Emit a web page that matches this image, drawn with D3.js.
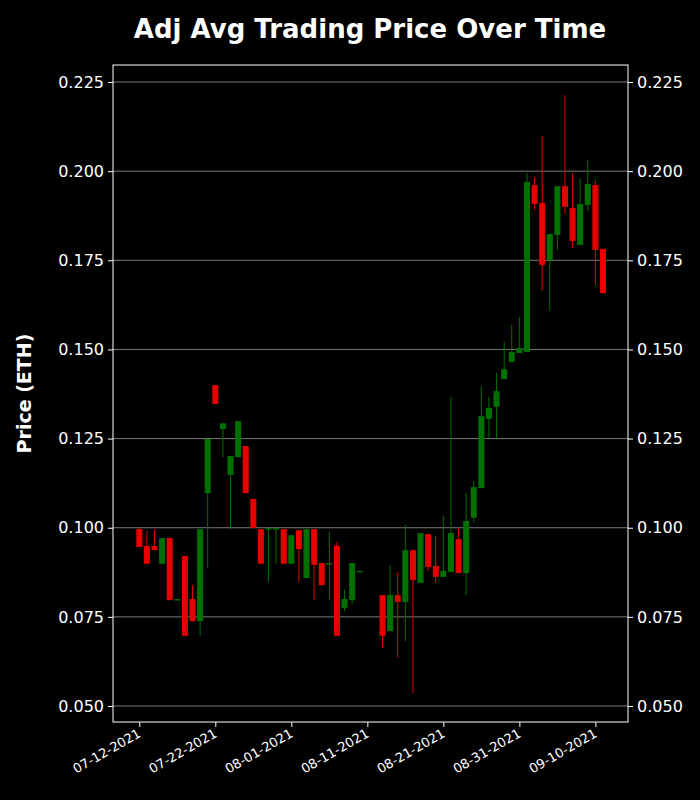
<!DOCTYPE html>
<html>
<head>
<meta charset="utf-8">
<script src="https://cdn.jsdelivr.net/npm/d3@7"></script>
<style>
  body { margin: 0; background: #000; }
  text { font-family: "DejaVu Sans", sans-serif; fill: #fff; }
</style>
</head>
<body>
<svg id="chart" width="700" height="800"></svg>
<script>
// day offsets from 2021-07-12 (no data on days 30, 31)
const dayIdx = [0,1,2,3,4,5,6,7,8,9,10,11,12,13,14,15,16,17,18,19,20,21,22,23,24,25,26,27,28,29,
  32,33,34,35,36,37,38,39,40,41,42,43,44,45,46,47,48,49,50,51,52,53,54,55,56,57,58,59,60,61]
const opens = [0.0996,0.0949,0.0949,0.0899,0.0971,0.0800,0.0921,0.0800,0.0738,0.1097,0.1400,0.1277,0.1148,0.1198,0.1229,0.1081,0.0996,0.0999,0.0999,0.0996,0.0899,0.0993,0.0859,0.0996,0.0901,0.0901,0.0949,0.0775,0.0797,0.0879,
  0.0811,0.0710,0.0811,0.0792,0.0937,0.0845,0.0982,0.0893,0.0862,0.0876,0.0968,0.0873,0.1028,0.1111,0.1305,0.1339,0.1417,0.1465,0.1490,0.1493,0.1961,0.1911,0.1751,0.1821,0.1958,0.1897,0.1793,0.1905,0.1961,0.1782]
const closes = [0.0946,0.0899,0.0937,0.0971,0.0797,0.0800,0.0697,0.0738,0.0996,0.1249,0.1347,0.1293,0.1201,0.1299,0.1097,0.0999,0.0899,0.0999,0.0999,0.0899,0.0979,0.0940,0.0996,0.0896,0.0839,0.0901,0.0697,0.0800,0.0901,0.0879,
  0.0697,0.0811,0.0792,0.0937,0.0853,0.0985,0.0890,0.0862,0.0879,0.0985,0.0873,0.1019,0.1114,0.1313,0.1336,0.1383,0.1445,0.1493,0.1504,0.1970,0.1908,0.1737,0.1824,0.1958,0.1900,0.1804,0.1908,0.1964,0.1779,0.1658]
const highs = [0.0999,0.0991,0.0994,0.0971,0.0971,0.0800,0.0921,0.0839,0.0996,0.1249,0.1400,0.1293,0.1201,0.1299,0.1229,0.1081,0.0996,0.0999,0.0999,0.0996,0.0899,0.0993,0.0996,0.0996,0.0901,0.0988,0.0960,0.0825,0.0901,0.0879,
  0.0811,0.0893,0.0876,0.1008,0.0937,0.0985,0.0982,0.0977,0.1033,0.1367,0.0997,0.1097,0.1131,0.1397,0.1367,0.1434,0.1521,0.1569,0.1591,0.1995,0.1981,0.2099,0.1824,0.1958,0.2213,0.1995,0.1981,0.2031,0.1975,0.1782]
const lows = [0.0946,0.0899,0.0937,0.0899,0.0797,0.0800,0.0697,0.0738,0.0697,0.0887,0.1347,0.1198,0.0996,0.1198,0.1097,0.0999,0.0899,0.0848,0.0899,0.0899,0.0899,0.0848,0.0859,0.0797,0.0839,0.0797,0.0697,0.0766,0.0786,0.0879,
  0.0663,0.0710,0.0637,0.0682,0.0536,0.0845,0.0879,0.0845,0.0862,0.0876,0.0873,0.0811,0.1016,0.1111,0.1252,0.1249,0.1417,0.1465,0.1490,0.1493,0.1891,0.1664,0.1608,0.1779,0.1880,0.1784,0.1793,0.1888,0.1681,0.1658]
const yTicks = [0.050,0.075,0.100,0.125,0.150,0.175,0.200,0.225]
const startDate = new Date(Date.UTC(2021, 6, 12))
const xTicks = [0,10,20,30,40,50,60].map(d => d3.utcDay.offset(startDate, d))

const svg = d3.select('#chart')
const m = { left: 113, right: 628, top: 65, bottom: 722 }

const x = d3.scaleUtc()
  .domain([d3.utcHour.offset(startDate, -3.45 * 24), d3.utcHour.offset(startDate, 64.3 * 24)])
  .range([m.left, m.right])
const y = d3.scaleLinear().domain([0.04552, 0.22977]).range([m.bottom, m.top])

svg.append('rect').attr('width', 700).attr('height', 800).attr('fill', '#000')

// grid
svg.append('g').selectAll('line').data(yTicks).join('line')
  .attr('x1', m.left).attr('x2', m.right)
  .attr('y1', d => y(d)).attr('y2', d => y(d))
  .attr('stroke', '#888').attr('stroke-width', 0.9)

const bars = dayIdx.map((d, i) => ({
  date: d3.utcDay.offset(startDate, d), o: opens[i], c: closes[i], h: highs[i], l: lows[i]
}))
const col = d => d.c >= d.o ? '#007000' : '#e60000'
const bw = x(d3.utcHour.offset(startDate, 19)) - x(startDate)

svg.append('g').selectAll('line').data(bars).join('line')
  .attr('x1', d => x(d.date)).attr('x2', d => x(d.date))
  .attr('y1', d => y(d.h)).attr('y2', d => y(d.l))
  .attr('stroke', col).attr('stroke-width', 1)

svg.append('g').selectAll('rect').data(bars).join('rect')
  .attr('x', d => x(d.date) - bw / 2).attr('width', bw)
  .attr('y', d => y(Math.max(d.o, d.c)))
  .attr('height', d => Math.max(1.5, Math.abs(y(d.o) - y(d.c))))
  .attr('fill', col)

// frame
svg.append('rect').attr('x', m.left).attr('y', m.top)
  .attr('width', m.right - m.left).attr('height', m.bottom - m.top)
  .attr('fill', 'none').attr('stroke', '#fff').attr('stroke-width', 1)

const fmt = d3.format('.3f')
const yl = svg.append('g').attr('transform', `translate(${m.left},0)`)
  .call(d3.axisLeft(y).tickValues(yTicks).tickFormat(fmt).tickSize(5).tickPadding(4))
const yr = svg.append('g').attr('transform', `translate(${m.right},0)`)
  .call(d3.axisRight(y).tickValues(yTicks).tickFormat(fmt).tickSize(5).tickPadding(4))
;[yl, yr].forEach(g => {
  g.select('.domain').remove()
  g.selectAll('line').attr('stroke', '#fff')
  g.selectAll('text').attr('font-size', 16).attr('fill', '#fff').style('font-family', 'DejaVu Sans')
})

const xa = svg.append('g').attr('transform', `translate(0,${m.bottom})`)
  .call(d3.axisBottom(x).tickValues(xTicks).tickFormat(d3.utcFormat('%m-%d-%Y')).tickSize(5))
xa.select('.domain').remove()
xa.selectAll('line').attr('stroke', '#fff')
xa.selectAll('text').attr('font-size', 13).attr('fill', '#fff').style('font-family', 'DejaVu Sans')
  .attr('text-anchor', 'end').attr('dy', null).attr('y', 0)
  .attr('transform', 'translate(2,14) rotate(-30)')

svg.append('text').attr('x', 370).attr('y', 38).attr('text-anchor', 'middle')
  .attr('font-size', 26).attr('font-weight', 'bold').text('Adj Avg Trading Price Over Time')
svg.append('text').attr('transform', `translate(31,${(m.top + m.bottom) / 2}) rotate(-90)`)
  .attr('text-anchor', 'middle').attr('font-size', 19).attr('font-weight', 'bold').text('Price (ETH)')
</script>
</body>
</html>
